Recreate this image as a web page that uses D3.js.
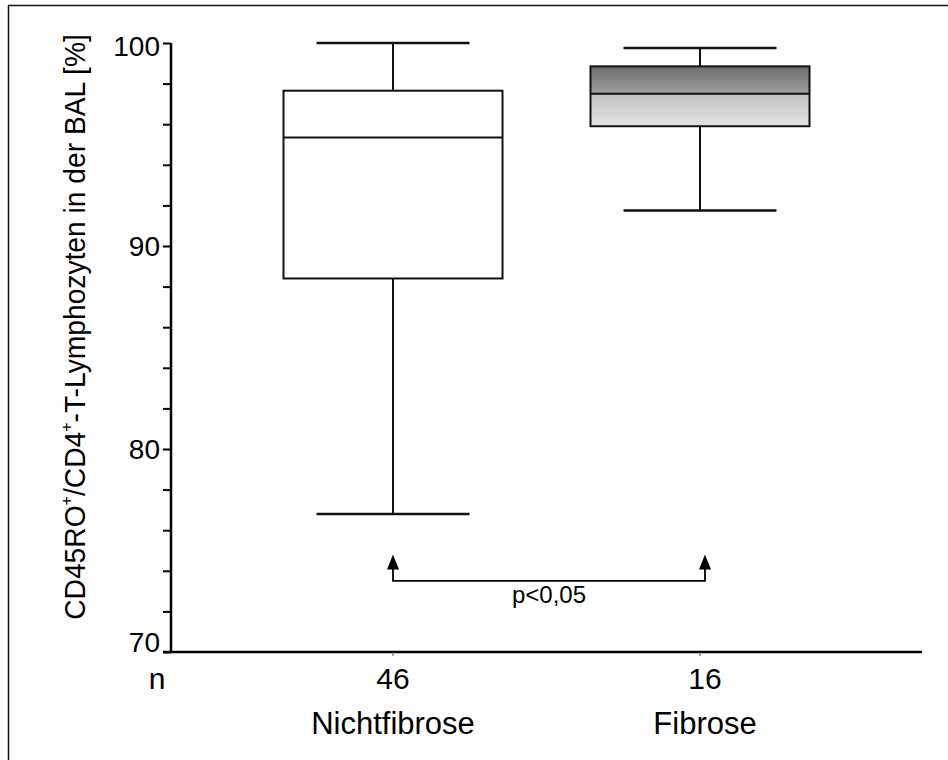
<!DOCTYPE html>
<html>
<head>
<meta charset="utf-8">
<script src="https://cdn.jsdelivr.net/npm/d3@7"></script>
<style>
  html, body { margin: 0; padding: 0; background: #fff; }
  svg { display: block; font-family: "Liberation Sans", Arial, sans-serif; }
</style>
</head>
<body>
<svg id="chart" width="948" height="760"></svg>
<script>
// Box-plot statistics per group (percent)
const groups       = ["Nichtfibrose", "Fibrose"];
const counts       = [46, 16];
const whiskerLow   = [76.8, 91.75];
const quartile1    = [88.4, 95.9];
const medians      = [95.35, 97.5];
const quartile3    = [97.65, 98.85];
const whiskerHigh  = [100, 99.75];
const shaded       = [false, true];

// Axis ticks
const yMajorTicks = [70, 80, 90, 100];
const yMinorTicks = d3.range(70, 100.001, 2);

// Significance bracket between the groups
const bracketLevel = 73.5;
const arrowTipLevel = 74.8;
const pLabel = "p<0,05";

const svg = d3.select("#chart");

// Outer frame (top and left edge)
svg.append("line").attr("x1", 8).attr("x2", 948).attr("y1", 5.5).attr("y2", 5.5)
  .attr("stroke", "#111").attr("stroke-width", 1.5);
svg.append("line").attr("x1", 8.5).attr("x2", 8.5).attr("y1", 5).attr("y2", 760)
  .attr("stroke", "#111").attr("stroke-width", 1.5);

const axisLeft = 171, axisRight = 922;
const y = d3.scaleLinear().domain([70, 100]).range([652, 43]);
const x = d3.scalePoint().domain(groups).range([393, 700]);

const boxWidth = 219, capWidth = 153;

// Gradients for the shaded box
const defs = svg.append("defs");
const gUp = defs.append("linearGradient").attr("id", "gradUpper")
  .attr("x1", 0).attr("y1", 0).attr("x2", 0).attr("y2", 1);
gUp.append("stop").attr("offset", "0%").attr("stop-color", "#6c6c6c");
gUp.append("stop").attr("offset", "100%").attr("stop-color", "#a2a2a2");
const gLo = defs.append("linearGradient").attr("id", "gradLower")
  .attr("x1", 0).attr("y1", 0).attr("x2", 0).attr("y2", 1);
gLo.append("stop").attr("offset", "0%").attr("stop-color", "#c2c2c2");
gLo.append("stop").attr("offset", "100%").attr("stop-color", "#e2e2e2");

// Y axis with minor ticks every 2 %
const yAxis = d3.axisLeft(y).tickValues(yMinorTicks)
  .tickSize(8).tickPadding(3)
  .tickFormat(d => yMajorTicks.includes(d) ? d : "");
const gy = svg.append("g").attr("transform", `translate(${axisLeft},0)`).call(yAxis);
gy.select(".domain").remove();
gy.selectAll(".tick line").attr("stroke", "#000").attr("stroke-width", 2);
gy.selectAll(".tick text")
  .attr("font-size", 28).attr("fill", "#000")
  .attr("font-family", "Liberation Sans, Arial, sans-serif")
  .attr("dy", d => d === 100 ? "0.68em" : d === 70 ? "-0.02em" : "0.33em")
  .attr("y", d => d === 100 ? -7 : 0);
svg.append("line").attr("x1", axisLeft).attr("x2", axisLeft)
  .attr("y1", y(100)).attr("y2", y(70) + 1)
  .attr("stroke", "#000").attr("stroke-width", 2.5);

// X axis baseline with small category ticks
svg.append("line").attr("x1", axisLeft - 8).attr("x2", axisRight)
  .attr("y1", y(70)).attr("y2", y(70))
  .attr("stroke", "#000").attr("stroke-width", 2.5);
svg.selectAll(".xtick").data(groups).join("line").attr("class", "xtick")
  .attr("x1", d => x(d)).attr("x2", d => x(d))
  .attr("y1", y(70)).attr("y2", y(70) + 4)
  .attr("stroke", "#555").attr("stroke-width", 1);

// Boxes
const rows = groups.map((g, i) => ({
  g, lo: whiskerLow[i], q1: quartile1[i], med: medians[i], q3: quartile3[i],
  hi: whiskerHigh[i], shaded: shaded[i]
}));
const box = svg.selectAll(".box").data(rows).join("g").attr("class", "box");
const stroke = "#111", sw = 2;

// whiskers
box.append("line").attr("x1", d => x(d.g)).attr("x2", d => x(d.g))
  .attr("y1", d => y(d.hi)).attr("y2", d => y(d.q3))
  .attr("stroke", stroke).attr("stroke-width", sw);
box.append("line").attr("x1", d => x(d.g)).attr("x2", d => x(d.g))
  .attr("y1", d => y(d.q1)).attr("y2", d => y(d.lo))
  .attr("stroke", stroke).attr("stroke-width", sw);
box.append("line").attr("x1", d => x(d.g) - capWidth / 2).attr("x2", d => x(d.g) + capWidth / 2)
  .attr("y1", d => y(d.hi)).attr("y2", d => y(d.hi))
  .attr("stroke", stroke).attr("stroke-width", sw + 0.5);
box.append("line").attr("x1", d => x(d.g) - capWidth / 2).attr("x2", d => x(d.g) + capWidth / 2)
  .attr("y1", d => y(d.lo)).attr("y2", d => y(d.lo))
  .attr("stroke", stroke).attr("stroke-width", sw + 0.5);

// upper (q3..median) and lower (median..q1) box parts
box.append("rect")
  .attr("x", d => x(d.g) - boxWidth / 2).attr("width", boxWidth)
  .attr("y", d => y(d.q3)).attr("height", d => y(d.med) - y(d.q3))
  .attr("fill", d => d.shaded ? "url(#gradUpper)" : "#fff");
box.append("rect")
  .attr("x", d => x(d.g) - boxWidth / 2).attr("width", boxWidth)
  .attr("y", d => y(d.med)).attr("height", d => y(d.q1) - y(d.med))
  .attr("fill", d => d.shaded ? "url(#gradLower)" : "#fff");
box.append("rect")
  .attr("x", d => x(d.g) - boxWidth / 2).attr("width", boxWidth)
  .attr("y", d => y(d.q3)).attr("height", d => y(d.q1) - y(d.q3))
  .attr("fill", "none").attr("stroke", stroke).attr("stroke-width", sw);
box.append("line")
  .attr("x1", d => x(d.g) - boxWidth / 2).attr("x2", d => x(d.g) + boxWidth / 2)
  .attr("y1", d => y(d.med)).attr("y2", d => y(d.med))
  .attr("stroke", stroke).attr("stroke-width", sw);

// Significance bracket with arrow heads
const bx1 = x(groups[0]), bx2 = x(groups[1]) + 5;
svg.append("path")
  .attr("d", `M${bx1},${y(arrowTipLevel) + 12}V${y(bracketLevel)}H${bx2}V${y(arrowTipLevel) + 12}`)
  .attr("fill", "none").attr("stroke", "#000").attr("stroke-width", 1.8);
[bx1, bx2].forEach(cx => {
  const tip = y(arrowTipLevel);
  svg.append("path")
    .attr("d", `M${cx},${tip}L${cx - 6},${tip + 15}L${cx + 6},${tip + 15}Z`)
    .attr("fill", "#000");
});
svg.append("text").attr("x", (bx1 + bx2) / 2).attr("y", y(bracketLevel) + 22)
  .attr("text-anchor", "middle").attr("font-size", 24).attr("fill", "#000")
  .text(pLabel);

// Group sizes and names
svg.append("text").attr("x", 157).attr("y", 689).attr("text-anchor", "middle")
  .attr("font-size", 30).attr("fill", "#000").text("n");
svg.selectAll(".count").data(groups).join("text").attr("class", "count")
  .attr("x", (d, i) => x(d) + (i ? 5 : 0)).attr("y", 689).attr("text-anchor", "middle")
  .attr("font-size", 30).attr("fill", "#000").text((d, i) => counts[i]);
svg.selectAll(".gname").data(groups).join("text").attr("class", "gname")
  .attr("x", (d, i) => x(d) + (i ? 5 : 0)).attr("y", 734).attr("text-anchor", "middle")
  .attr("font-size", 31).attr("fill", "#000").text(d => d);

// Y axis title with superscripts
const title = svg.append("text").attr("text-anchor", "middle")
  .attr("font-size", 30).attr("fill", "#000");
const parts = [
  ["CD45RO", false], ["+", true], ["/CD4", false], ["+", true],
  ["-T-Lymphozyten in der BAL [%]", false]
];
parts.forEach(([t, sup]) => {
  const ts = title.append("tspan").text(t);
  if (sup) ts.attr("font-size", 17).attr("dy", -13);
  else ts.attr("dy", 0);
});
// restore baseline after each superscript
title.selectAll("tspan").each(function (d, i) {
  if (i > 0 && parts[i - 1][1]) d3.select(this).attr("dy", 13);
});
const natural = title.node().getComputedTextLength();
const k = 586 / natural;
title.attr("transform", `translate(85,327) rotate(-90) scale(${k},1)`);
</script>
</body>
</html>
